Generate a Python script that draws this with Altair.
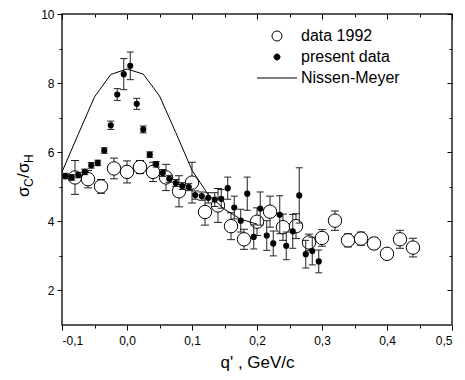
import altair as alt
import pandas as pd

FONT = "Liberation Sans"

# Nissen-Meyer curve
nm_q = [-0.1, -0.075, -0.05, -0.025, 0.0, 0.025, 0.05, 0.075, 0.1, 0.125, 0.15, 0.175, 0.2]
nm_r = [5.43, 6.52, 7.60, 8.25, 8.41, 8.26, 7.63, 6.57, 5.48, 4.77, 4.35, 4.06, 3.92]

# data 1992 (open circles)
old_q = [-0.08, -0.06, -0.04, -0.02, 0.0, 0.02, 0.04, 0.06, 0.08, 0.10, 0.12, 0.14, 0.16, 0.18,
         0.20, 0.22, 0.24, 0.26, 0.28, 0.30, 0.32, 0.34, 0.36, 0.38, 0.40, 0.42, 0.44]
old_r = [5.27, 5.22, 5.01, 5.53, 5.43, 5.57, 5.43, 5.27, 4.87, 5.12, 4.27, 4.46, 3.86, 3.48,
         3.99, 4.28, 3.83, 3.86, 3.39, 3.52, 4.02, 3.45, 3.50, 3.36, 3.06, 3.48, 3.24]
old_e = [0.49, 0.25, 0.20, 0.30, 0.32, 0.19, 0.28, 0.38, 0.45, 0.59, 0.38, 0.49, 0.39, 0.29,
         0.40, 0.45, 0.38, 0.36, 0.24, 0.24, 0.28, 0.19, 0.19, 0.17, 0.12, 0.26, 0.27]

# present data (filled dots)
new_q = [-0.095, -0.085, -0.075, -0.065, -0.055, -0.045, -0.035, -0.025, -0.015, -0.005,
         0.005, 0.015, 0.025, 0.035, 0.045, 0.055, 0.065, 0.075, 0.085, 0.095,
         0.105, 0.115, 0.125, 0.135, 0.145, 0.155, 0.165, 0.175, 0.185, 0.195,
         0.205, 0.215, 0.225, 0.235, 0.245, 0.255, 0.265, 0.275, 0.285, 0.295]
new_r = [5.31, 5.27, 5.34, 5.43, 5.62, 5.69, 6.05, 6.78, 7.67, 8.26,
         8.50, 7.40, 6.66, 5.93, 5.65, 5.40, 5.23, 5.11, 5.02, 4.99,
         4.76, 4.73, 4.68, 4.63, 4.65, 4.96, 4.40, 4.02, 4.80, 3.55,
         4.37, 3.59, 3.36, 4.19, 3.29, 3.71, 4.75, 3.05, 3.14, 2.84]
new_e = [0.08, 0.08, 0.08, 0.08, 0.08, 0.08, 0.08, 0.12, 0.17, 0.45,
         0.40, 0.16, 0.10, 0.08, 0.08, 0.10, 0.10, 0.10, 0.10, 0.10,
         0.12, 0.12, 0.15, 0.20, 0.27, 0.32, 0.33, 0.33, 0.48, 0.35,
         0.48, 0.43, 0.36, 0.55, 0.40, 0.49, 0.80, 0.40, 0.40, 0.33]

x_major = [-0.1, 0.0, 0.1, 0.2, 0.3, 0.4, 0.5]
x_minor = [-0.05, 0.05, 0.15, 0.25, 0.35, 0.45]
y_major = [2, 4, 6, 8, 10]
y_minor = [3, 5, 7, 9]
series = ["data 1992", "present data", "Nissen-Meyer"]
x_title = "q' , GeV/c"
y_title_parts = ["σ", "C", "/", "σ", "H"]

nm = pd.DataFrame({"q": nm_q, "r": nm_r})
old = pd.DataFrame({"q": old_q, "r": old_r, "e": old_e})
old["lo"] = old["r"] - old["e"]
old["hi"] = old["r"] + old["e"]
new = pd.DataFrame({"q": new_q, "r": new_r, "e": new_e})
new["lo"] = new["r"] - new["e"]
new["hi"] = new["r"] + new["e"]

xs = alt.Scale(domain=[-0.1, 0.5], nice=False, zero=False)
ys = alt.Scale(domain=[1, 10], nice=False, zero=False)

label_expr = "(datum.value < -0.000001 ? '-' : '') + replace(format(abs(datum.value), '.1f'), '.', ',')"


def tick_axis(orient, values, size, offset=0):
    return alt.Axis(orient=orient, values=values, tickSize=size, offset=offset, labels=False,
                    domain=False, grid=False, ticks=True, tickColor="black", tickWidth=1,
                    title=None)


bottom_major = alt.Axis(orient="bottom", values=x_major, tickSize=5, domain=False, grid=False,
                        tickColor="black", tickWidth=1, labelExpr=label_expr, labelFont=FONT,
                        labelFontSize=12, labelColor="black", labelPadding=5,
                        title=x_title, titleFont=FONT, titleFontSize=17, titleFontWeight="normal",
                        titleColor="black", titlePadding=8)
left_major = alt.Axis(orient="left", values=y_major, tickSize=5, domain=False, grid=False,
                      tickColor="black", tickWidth=1, labelFont=FONT, labelFontSize=12,
                      labelColor="black", labelPadding=3, title=None)

bottom_minor = tick_axis("bottom", x_minor, 3)
left_minor = tick_axis("left", y_minor, 3)
top_major = tick_axis("top", x_major, 5, -5)
top_minor = tick_axis("top", x_minor, 3, -3)
right_major = tick_axis("right", y_major, 5, -5)
right_minor = tick_axis("right", y_minor, 3, -3)

BAR = "#222222"

old_bar = alt.Chart(old).mark_rule(color=BAR, strokeWidth=1).encode(
    x=alt.X("q:Q", scale=xs, axis=bottom_minor),
    y=alt.Y("lo:Q", scale=ys, axis=left_minor),
    y2="hi:Q",
)
old_cap_lo = alt.Chart(old).mark_tick(orient="horizontal", size=8, thickness=1, color=BAR, opacity=1).encode(
    x=alt.X("q:Q", scale=xs, axis=top_major),
    y=alt.Y("lo:Q", scale=ys, axis=right_major),
)
old_cap_hi = alt.Chart(old).mark_tick(orient="horizontal", size=8, thickness=1, color=BAR, opacity=1).encode(
    x=alt.X("q:Q", scale=xs, axis=top_minor),
    y=alt.Y("hi:Q", scale=ys, axis=right_minor),
)
old_pts = alt.Chart(old).mark_point(shape="circle", fill="white", stroke="black", strokeWidth=1,
                                    size=180, opacity=1, fillOpacity=1).encode(
    x=alt.X("q:Q", scale=xs, axis=None),
    y=alt.Y("r:Q", scale=ys, axis=None),
)
nm_line = alt.Chart(nm).mark_line(color="black", strokeWidth=1).encode(
    x=alt.X("q:Q", scale=xs, axis=bottom_major),
    y=alt.Y("r:Q", scale=ys, axis=left_major),
)
new_bar = alt.Chart(new).mark_rule(color=BAR, strokeWidth=1).encode(
    x=alt.X("q:Q", scale=xs, axis=None),
    y=alt.Y("lo:Q", scale=ys, axis=None),
    y2="hi:Q",
)
new_cap_lo = alt.Chart(new).mark_tick(orient="horizontal", size=7, thickness=1, color=BAR, opacity=1).encode(
    x=alt.X("q:Q", scale=xs, axis=None),
    y=alt.Y("lo:Q", scale=ys, axis=None),
)
new_cap_hi = alt.Chart(new).mark_tick(orient="horizontal", size=7, thickness=1, color=BAR, opacity=1).encode(
    x=alt.X("q:Q", scale=xs, axis=None),
    y=alt.Y("hi:Q", scale=ys, axis=None),
)
new_pts = alt.Chart(new).mark_circle(color="black", size=38, opacity=1).encode(
    x=alt.X("q:Q", scale=xs, axis=None),
    y=alt.Y("r:Q", scale=ys, axis=None),
)

leg = alt.Legend(orient="none", legendX=207, legendY=14, title=None, labelFont=FONT,
                 labelFontSize=16, labelColor="black", symbolStrokeColor="black",
                 symbolStrokeWidth=1, symbolOpacity=1, symbolSize=100, labelOffset=16,
                 rowPadding=5, padding=0)
small_dot = "M-0.6,0A0.6,0.6 0 1,0 0.6,0A0.6,0.6 0 1,0 -0.6,0Z"
legend_layer = alt.Chart(pd.DataFrame({"series": series})).mark_point(
    opacity=0, stroke="black", strokeWidth=1).encode(
    shape=alt.Shape("series:N", scale=alt.Scale(domain=series, range=["circle", small_dot, "M-4,0L4,0"]), legend=leg),
    fill=alt.Fill("series:N", scale=alt.Scale(domain=series, range=["white", "black", "transparent"]), legend=leg),
    stroke=alt.Stroke("series:N", scale=alt.Scale(domain=series, range=["black", "black", "black"]), legend=leg),
)

one = pd.DataFrame({"k": [0]})


def title_piece(txt, size, px, py):
    return alt.Chart(one).mark_text(text=txt, angle=270, align="left", baseline="alphabetic",
                                    font=FONT, fontSize=size, color="black").encode(
        x=alt.value(px), y=alt.value(py))


title_layers = [
    title_piece(y_title_parts[0], 17, -33, 183),
    title_piece(y_title_parts[1], 12, -29, 173),
    title_piece(y_title_parts[2], 17, -33, 164),
    title_piece(y_title_parts[3], 17, -33, 159),
    title_piece(y_title_parts[4], 12, -29, 149),
]

chart = alt.layer(
    old_bar, old_cap_lo, old_cap_hi, old_pts, nm_line, new_bar, new_cap_lo, new_cap_hi, new_pts,
    legend_layer, *title_layers
).resolve_axis(x="independent", y="independent").properties(
    width=390, height=311,
    autosize=alt.AutoSizeParams(type="none"),
    padding={"left": 54, "top": 6, "right": 5, "bottom": 46},
).configure(font=FONT).configure_view(stroke="#222222", strokeWidth=1.5)

chart.save("out.html", embed_options={"renderer": "svg", "actions": False})
